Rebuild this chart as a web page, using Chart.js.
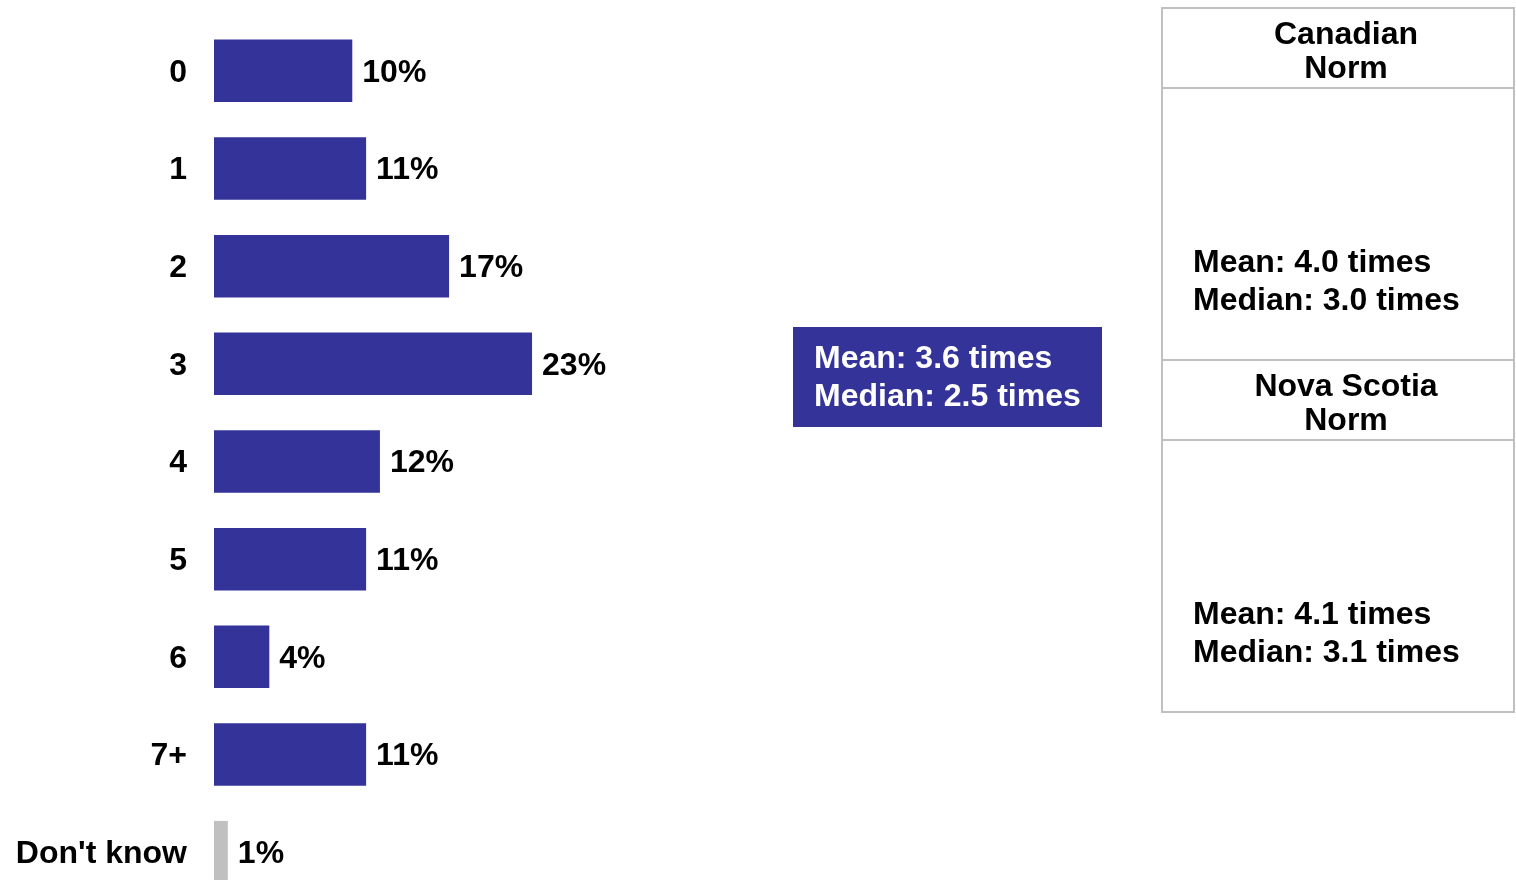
<!DOCTYPE html>
<html>
<head>
<meta charset="utf-8">
<script src="https://cdn.jsdelivr.net/npm/chart.js@4.4.1/dist/chart.umd.min.js"></script>
<style>
  html, body { margin: 0; padding: 0; background: #fff; overflow: hidden; }
  #wrap { width: 1516px; height: 880px; overflow: hidden; }
</style>
</head>
<body>
<div id="wrap">
  <canvas id="myChart" width="1516" height="930"></canvas>
</div>
<script>
var categories = ["0", "1", "2", "3", "4", "5", "6", "7+", "Don't know"];
var percentValues = [10, 11, 17, 23, 12, 11, 4, 11, 1];
var barColors = ["#343399", "#343399", "#343399", "#343399", "#343399", "#343399", "#343399", "#343399", "#c0c0c0"];

var totalLines = ["Mean: 3.6 times", "Median: 2.5 times"];
var canadianNorm = ["Mean: 4.0 times", "Median: 3.0 times"];
var novaScotiaNorm = ["Mean: 4.1 times", "Median: 3.1 times"];

var FONT = "bold 32px 'Liberation Sans', Arial, sans-serif";

// labels at the end of each bar
var barLabels = {
  id: 'barLabels',
  afterDatasetsDraw: function(chart) {
    var ctx = chart.ctx;
    var meta = chart.getDatasetMeta(0);
    ctx.save();
    ctx.font = FONT;
    ctx.fillStyle = '#000';
    ctx.textAlign = 'left';
    ctx.textBaseline = 'middle';
    meta.data.forEach(function(bar, i) {
      ctx.fillText(percentValues[i] + '%', bar.x + 10, bar.y + 2);
    });
    ctx.restore();
  }
};

// mean / median boxes
var sideBoxes = {
  id: 'sideBoxes',
  afterDraw: function(chart) {
    var ctx = chart.ctx;
    ctx.save();
    ctx.font = FONT;
    ctx.textBaseline = 'middle';

    ctx.fillStyle = '#343399';
    ctx.fillRect(793, 327, 309, 100);
    ctx.fillStyle = '#fff';
    ctx.textAlign = 'left';
    ctx.fillText(totalLines[0], 814, 359);
    ctx.fillText(totalLines[1], 814, 397);

    ctx.strokeStyle = '#c0c0c0';
    ctx.lineWidth = 2;
    ctx.strokeRect(1162, 8, 352, 704);
    [88, 360, 440].forEach(function(y) {
      ctx.beginPath();
      ctx.moveTo(1162, y);
      ctx.lineTo(1514, y);
      ctx.stroke();
    });

    ctx.fillStyle = '#000';
    ctx.textAlign = 'center';
    ctx.fillText('Canadian', 1346, 35);
    ctx.fillText('Norm', 1346, 69);
    ctx.fillText('Nova Scotia', 1346, 387);
    ctx.fillText('Norm', 1346, 421);

    ctx.textAlign = 'left';
    ctx.fillText(canadianNorm[0], 1193, 263);
    ctx.fillText(canadianNorm[1], 1193, 301);
    ctx.fillText(novaScotiaNorm[0], 1193, 615);
    ctx.fillText(novaScotiaNorm[1], 1193, 653);
    ctx.restore();
  }
};

var ctx = document.getElementById('myChart').getContext('2d');

var myChart = new Chart(ctx, {
  type: 'bar',
  data: {
    labels: categories,
    datasets: [{
      data: percentValues,
      backgroundColor: barColors,
      borderWidth: 0,
      categoryPercentage: 1,
      barPercentage: 0.64
    }]
  },
  options: {
    indexAxis: 'y',
    responsive: false,
    animation: false,
    layout: {
      padding: { top: 22, bottom: 29, left: 0, right: 417 }
    },
    plugins: {
      legend: { display: false },
      tooltip: { enabled: false }
    },
    scales: {
      x: {
        display: false,
        min: 0,
        max: 64
      },
      y: {
        afterFit: function(scale) {
          scale.width = 214;
          scale.paddingTop = 0;
          scale.paddingBottom = 0;
        },
        grid: { display: false, drawTicks: false },
        border: { display: false },
        ticks: {
          padding: 27,
          labelOffset: 2,
          color: '#000',
          font: { family: "'Liberation Sans', Arial, sans-serif", size: 32, weight: 'bold' }
        }
      }
    }
  },
  plugins: [barLabels, sideBoxes]
});
</script>
</body>
</html>
